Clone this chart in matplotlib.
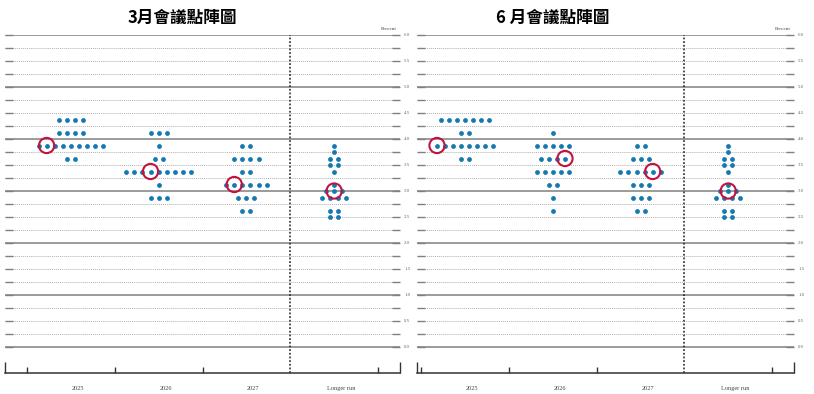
import matplotlib
matplotlib.use("Agg")
import matplotlib.pyplot as plt
import numpy as np

# 點陣圖資料: 每個類別 -> [(利率, 點數), ...]
categories = ["2025", "2026", "2027", "Longer run"]

march_dots = [
    [(4.375, 4), (4.125, 4), (3.875, 9), (3.625, 2)],
    [(4.125, 3), (3.875, 1), (3.625, 2), (3.375, 9), (3.125, 1), (2.875, 3)],
    [(3.875, 2), (3.625, 4), (3.375, 2), (3.125, 6), (2.875, 3), (2.625, 2)],
    [(3.875, 1), (3.75, 1), (3.625, 2), (3.5, 2), (3.375, 1), (3.125, 1),
     (3.0, 3), (2.875, 4), (2.625, 2), (2.5, 2)],
]
march_median = [3.875, 3.375, 3.125, 3.0]
march_median_idx = [1, 3, 1, 1]   # 中位數圈在該列第幾個點

june_dots = [
    [(4.375, 7), (4.125, 2), (3.875, 8), (3.625, 2)],
    [(4.125, 1), (3.875, 5), (3.625, 4), (3.375, 5), (3.125, 2), (2.875, 1), (2.625, 1)],
    [(3.875, 2), (3.625, 3), (3.375, 6), (3.125, 3), (2.875, 3), (2.625, 2)],
    [(3.875, 1), (3.75, 1), (3.625, 2), (3.5, 2), (3.375, 1), (3.125, 1),
     (3.0, 3), (2.875, 4), (2.625, 2), (2.5, 2)],
]
june_median = [3.875, 3.625, 3.375, 3.0]
june_median_idx = [0, 3, 4, 1]

titles = ["3月會議點陣圖", "6 月會議點陣圖"]
ytick_vals = np.arange(0, 6.01, 0.5)

DOT = "#1479b0"
RED = "#c4123f"
SPACING = 0.092
SERIF = "Liberation Serif"

W, H = 814, 394
fig = plt.figure(figsize=(W / 100, H / 100), dpi=100)


def dibuja_panel(ax, dots, median, median_idx, xmin):
    ax.set_xlim(xmin, 3.75)
    ax.set_ylim(-0.5, 6.0)

    # linhas de grade
    for lvl in np.arange(0, 6.01, 0.25):
        if abs(lvl - round(lvl)) < 1e-9:
            ax.axhline(lvl, color="#808080", lw=1.1, zorder=1)
        else:
            ax.axhline(lvl, color="#b0b0b0", lw=0.7, ls=(0, (1, 1)), zorder=1)

    ax.axvline(2.5, color="#222222", lw=1.1, ls=(0, (1.2, 1.2)), zorder=2)

    for i, rows in enumerate(dots):
        for rate, n in rows:
            xs = i + (np.arange(n) - (n - 1) / 2) * SPACING
            ax.scatter(xs, [rate] * n, s=12, color=DOT, zorder=3, linewidths=0)
            if rate == median[i]:
                ax.scatter(xs[median_idx[i]], rate, s=120, facecolors="none",
                           edgecolors=RED, linewidths=1.5, zorder=4)
        ax.annotate(categories[i], (i + 0.08, -0.5), xytext=(0, -11),
                    textcoords="offset points", ha="center", va="center",
                    fontsize=4.5, family=SERIF, color="#444444")

    for s in ["top", "left", "right"]:
        ax.spines[s].set_visible(False)
    ax.spines["bottom"].set_color("#333333")
    ax.spines["bottom"].set_linewidth(1.1)

    ax.set_yticks(ytick_vals)
    ax.set_yticklabels([f"{v:.1f}" for v in ytick_vals])
    ax.set_yticks(np.arange(0.25, 6.0, 0.5), minor=True)
    ax.tick_params(axis="y", which="both", direction="in", left=True, right=True,
                   labelleft=False, labelright=True, length=6, width=1,
                   color="#808080", labelsize=3.5, labelcolor="#666666", pad=3)
    for lab in ax.get_yticklabels():
        lab.set_family(SERIF)

    ax.set_xticks([-0.5, 0.5, 1.5, 3.5])
    ax.set_xticklabels([])
    ax.set_xticks([xmin, 3.75], minor=True)
    ax.tick_params(axis="x", which="major", direction="in", length=4, width=1,
                   color="#333333")
    ax.tick_params(axis="x", which="minor", direction="in", length=8, width=1,
                   color="#333333")

    ax.text(3.62, 6.08, "Percent", fontsize=3.8, family=SERIF,
            color="#444444", ha="center", va="bottom")


bottom = 1 - 373 / H
top = 1 - 35 / H
ax1 = fig.add_axes([5 / W, bottom, (400 - 5) / W, top - bottom])
ax2 = fig.add_axes([417 / W, bottom, (794 - 417) / W, top - bottom])

dibuja_panel(ax1, march_dots, march_median, march_median_idx, -0.75)
dibuja_panel(ax2, june_dots, june_median, june_median_idx, -0.55)

cjk = ["Noto Sans CJK TC", "DejaVu Sans"]
fig.text(182 / W, 1 - 18 / H, titles[0], fontsize=12, fontweight="bold",
         family=cjk, ha="center", va="center")
fig.text(553 / W, 1 - 18 / H, titles[1], fontsize=12, fontweight="bold",
         family=cjk, ha="center", va="center")

fig.savefig("out.png", dpi=100)
